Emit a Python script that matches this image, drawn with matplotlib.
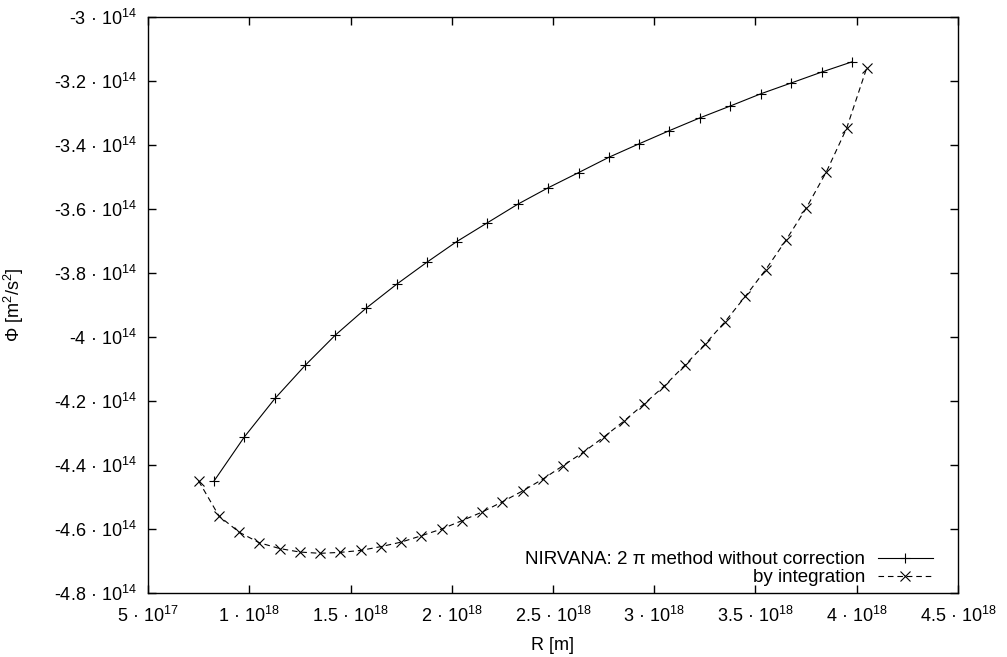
import math
import matplotlib
matplotlib.use("Agg")
import matplotlib.pyplot as plt
from matplotlib.ticker import FuncFormatter, MultipleLocator

plt.rcParams['font.family'] = ['Liberation Sans', 'DejaVu Sans']
plt.rcParams['mathtext.fontset'] = 'custom'
plt.rcParams['mathtext.rm'] = 'Liberation Sans'
plt.rcParams['mathtext.it'] = 'Liberation Sans:italic'
plt.rcParams['mathtext.default'] = 'regular'

# NIRVANA: 2 pi method without correction
r_nirvana = [0.826e18, 0.976e18, 1.127e18, 1.277e18, 1.425e18, 1.577e18,
             1.728e18, 1.878e18, 2.024e18, 2.176e18, 2.326e18, 2.475e18,
             2.627e18, 2.777e18, 2.926e18, 3.075e18, 3.226e18, 3.376e18,
             3.526e18, 3.677e18, 3.827e18, 3.977e18]
phi_nirvana = [-4.450e14, -4.312e14, -4.192e14, -4.088e14, -3.994e14, -3.910e14,
               -3.835e14, -3.766e14, -3.702e14, -3.643e14, -3.585e14, -3.534e14,
               -3.486e14, -3.438e14, -3.396e14, -3.355e14, -3.315e14, -3.278e14,
               -3.240e14, -3.206e14, -3.172e14, -3.140e14]

# by integration
r_integ = [0.75e18, 0.85e18, 0.95e18, 1.05e18, 1.15e18, 1.25e18, 1.35e18,
           1.45e18, 1.55e18, 1.65e18, 1.75e18, 1.85e18, 1.95e18, 2.05e18,
           2.15e18, 2.25e18, 2.35e18, 2.45e18, 2.55e18, 2.65e18, 2.75e18,
           2.85e18, 2.95e18, 3.05e18, 3.15e18, 3.25e18, 3.35e18, 3.45e18,
           3.55e18, 3.65e18, 3.75e18, 3.85e18, 3.95e18, 4.05e18]
phi_integ = [-4.450e14, -4.559e14, -4.610e14, -4.643e14, -4.661e14, -4.672e14,
             -4.676e14, -4.673e14, -4.667e14, -4.655e14, -4.641e14, -4.621e14,
             -4.600e14, -4.574e14, -4.547e14, -4.515e14, -4.481e14, -4.444e14,
             -4.402e14, -4.360e14, -4.313e14, -4.263e14, -4.209e14, -4.153e14,
             -4.089e14, -4.023e14, -3.952e14, -3.873e14, -3.790e14, -3.698e14,
             -3.598e14, -3.484e14, -3.348e14, -3.158e14]


def sci(v, pos):
    if v == 0:
        return '0'
    e = int(math.floor(math.log10(abs(v)) + 1e-9))
    m = v / 10 ** e
    return '%g · 10$^{%d}$' % (round(m, 3), e)


fig = plt.figure(figsize=(10.07, 6.57), dpi=100)
ax = fig.add_axes([0.147, 0.0974, 0.8043, 0.8767])

ax.plot(r_nirvana, phi_nirvana, color='black', lw=0.8, marker='+',
        markersize=7, markeredgewidth=0.8,
        label='NIRVANA: 2 π method without correction')
ax.plot(r_integ, phi_integ, color='black', lw=0.8, linestyle=(0, (5, 3.5)),
        marker='x', markersize=6.5, markeredgewidth=0.8,
        label='by integration')

ax.set_xlim(5e17, 4.5e18)
ax.set_ylim(-4.8e14, -3e14)
ax.xaxis.set_major_locator(MultipleLocator(5e17))
ax.yaxis.set_major_locator(MultipleLocator(2e13))
ax.xaxis.set_major_formatter(FuncFormatter(sci))
ax.yaxis.set_major_formatter(FuncFormatter(sci))
ax.tick_params(direction='in', length=6, width=1, top=True, right=True,
               labelsize=13)
ax.tick_params(axis='y', pad=8)
ax.tick_params(axis='x', pad=9)
for s in ax.spines.values():
    s.set_linewidth(1.0)

ax.set_xlabel('R [m]', fontsize=13, labelpad=8)
ax.set_ylabel('Φ [m$^{2}$/s$^{2}$]', fontsize=13, labelpad=20)

ax.legend(loc='lower right', bbox_to_anchor=(0.985, -0.011), frameon=False,
          markerfirst=False, fontsize=13.5, handlelength=2.9, handletextpad=0.7,
          labelspacing=0.05, borderaxespad=0.3)

fig.savefig('out.png', dpi=100)
